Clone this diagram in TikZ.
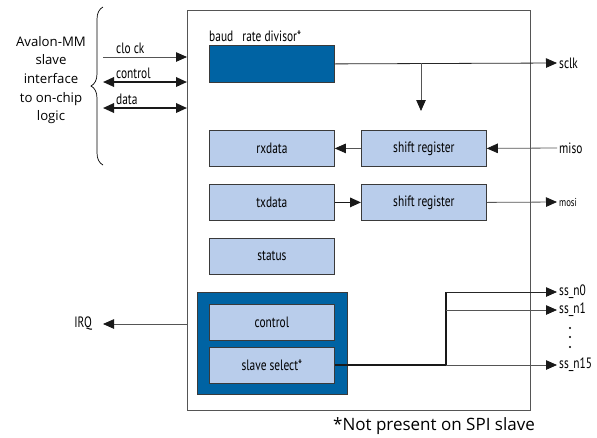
\documentclass[tikz,border=0pt]{standalone}
\usepackage{fontspec}
\setmainfont{Open Sans}
\newfontfamily\cond[FakeStretch=0.76]{PT Sans}
\usetikzlibrary{arrows.meta,decorations.pathreplacing}
\definecolor{dkblue}{HTML}{0063A3}
\definecolor{ltblue}{HTML}{B9CDEB}
\definecolor{edge}{HTML}{3A3A3A}
\definecolor{thin}{HTML}{555555}
\begin{document}
\begin{tikzpicture}[x=1pt,y=-1pt,
  reg/.style={draw=edge,line width=0.8pt,fill=ltblue,minimum width=125pt,minimum height=36pt,anchor=north west,inner sep=0pt,font=\cond\fontsize{15}{17}\selectfont},
  lbl/.style={font=\cond\fontsize{15}{17}\selectfont,inner sep=1pt},
  tip/.style={-{Triangle[length=11pt,width=9.5pt,color=black!90]}},
  dtip/.style={{Triangle[length=11pt,width=9.5pt,color=black!90]}-{Triangle[length=11pt,width=9.5pt,color=black!90]}},
  thinln/.style={draw=thin,line width=0.8pt},
  thickln/.style={draw=black!90,line width=2pt}]
\useasboundingbox (0,0) rectangle (597,437);
\fill[white] (0,0) rectangle (597,437);
% main box
\node[draw=thin,line width=1pt,minimum width=343pt,minimum height=400pt,anchor=north west,inner sep=0pt] (main) at (187,10) {};
% left text + brace
\node[align=center,font=\fontsize{13.2}{18.7}\selectfont] (avalon) at (51,80) {Avalon-MM\\slave\\interface\\to on-chip\\logic};
\draw[thin,line width=0.7pt,decorate,decoration={brace,amplitude=12pt,aspect=0.5}] (103,165) -- (103,7);
% bus signals
\coordinate (clkL) at (103,57); \coordinate (clkR) at (187,57);
\coordinate (ctlL) at (103,82); \coordinate (ctlR) at (187,82);
\coordinate (datL) at (103,108); \coordinate (datR) at (187,108);
\draw[thinln,tip] (clkL) -- (clkR);
\draw[thickln,line width=1.8pt,dtip] (ctlL) -- (ctlR);
\draw[thickln,line width=1.8pt,dtip] (datL) -- (datR);
\node[lbl,anchor=south west] (clklbl) at (115,55) {clo ck};
\node[lbl,anchor=south west] (ctllbl) at (115,80) {control};
\node[lbl,anchor=south west] (datlbl) at (115,106) {data};
% baud
\node[draw=edge,line width=0.8pt,fill=dkblue,minimum width=125pt,minimum height=37pt,anchor=north west,inner sep=0pt] (baud) at (209,45) {};
\node[lbl,anchor=south west,inner sep=0pt] (baudlbl) at (209,42) {baud\ \ \ rate divisor*};
% registers
\node[reg] (rxd) at (209,130) {rxdata};
\node[reg] (rxsr) at (361,130) {shift register};
\node[reg] (txd) at (209,184) {txdata};
\node[reg] (txsr) at (361,184) {shift register};
\node[reg] (stat) at (209,238) {status};
\node[draw=edge,line width=0.8pt,fill=dkblue,minimum width=150pt,minimum height=102pt,anchor=north west,inner sep=0pt] (ctlbox) at (197,292) {};
\node[reg] (ctl) at (209,304) {control};
\node[reg] (ss) at (209,347) {slave select*};
% sclk
\coordinate (sclkE) at (557,63);
\coordinate (brk) at (421,63);
\coordinate (brkD) at (421,111);
\draw[draw=black!85,line width=0.8pt,tip] (baud.east) -- (sclkE);
\draw[thinln,tip] (brk) -- (brkD);
\node[lbl,anchor=west] (sclk) at (558,63) {sclk};
% rx
\coordinate (misoE) at (557,148);
\draw[thinln,tip] (rxsr.west) -- (rxd.east);
\draw[thinln,tip] (misoE) -- (rxsr.east);
\node[lbl,anchor=west] (miso) at (558,148) {miso};
% tx
\coordinate (mosiE) at (557,202);
\draw[thickln,line width=1.6pt,tip] (txd.east) -- (txsr.west);
\draw[thinln,tip] (txsr.east) -- (mosiE);
\node[lbl,anchor=west,font=\cond\fontsize{11.5}{13}\selectfont] (mosi) at (558,202) {mosi};
% IRQ
\coordinate (irqS) at (187,324);
\coordinate (irqE) at (103,324);
\draw[thinln,tip] (irqS) -- (irqE);
\node[lbl,anchor=east] (irq) at (93,324) {IRQ};
% slave select fan-out
\coordinate (j15) at (446,365);
\coordinate (j1) at (446,310);
\coordinate (j0) at (446,292);
\coordinate (e0) at (557,292);
\coordinate (e1) at (557,310);
\coordinate (e15) at (557,365);
\draw[thickln,line width=2.2pt] (ss.east |- j15) -- (j15);
\draw[thickln,line width=2.2pt] (446,366) -- (j0);
\draw[thinln,draw=black!85,tip] (j0) -- (e0);
\draw[thinln,tip] (j1) -- (e1);
\draw[thinln,tip] (j15) -- (e15);
\node[lbl,anchor=west] (n0) at (558,292) {ss\_n0};
\node[lbl,anchor=west] (n1) at (558,310) {ss\_n1};
\node[lbl,anchor=west] (n15) at (558,365) {ss\_n15};
\foreach \yy/\nm in {328/d1,337/d2,347/d3} \fill (570,\yy) circle (1.1pt);
% footnote
\node[font=\fontsize{17}{19}\selectfont] (foot) at (434,426) {*Not present on SPI slave};
\end{tikzpicture}
\end{document}
